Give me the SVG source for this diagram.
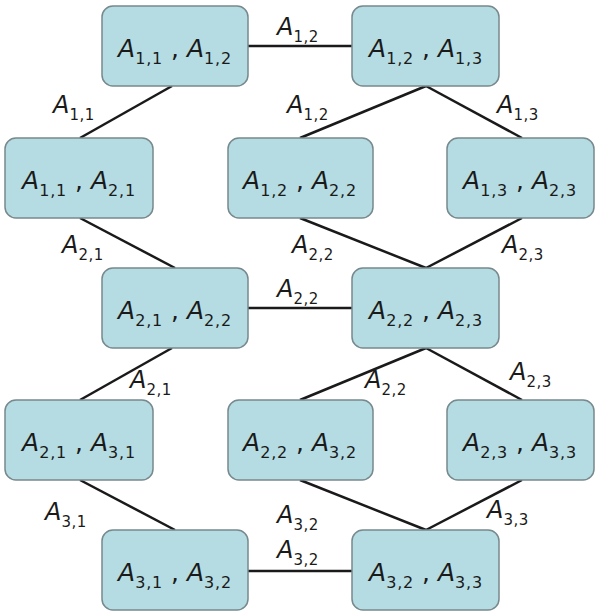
<svg xmlns="http://www.w3.org/2000/svg" width="598" height="613" viewBox="0 0 598 613">
<style>
.box{fill:#b5dce2;stroke:#77898d;stroke-width:1.5}
.edge{stroke:#1a1a1a;stroke-width:2.5;fill:none}
.nt{font-family:"DejaVu Sans",Verdana,sans-serif;font-size:25px;fill:#1a1a1a;text-anchor:middle}
.et{font-family:"DejaVu Sans",Verdana,sans-serif;font-size:24px;fill:#1a1a1a}
.i{font-style:italic}
.s{font-size:16px;letter-spacing:0.8px}
.es{font-size:15px;letter-spacing:0.5px}
</style>
<rect width="598" height="613" fill="#ffffff"/>
<g id="connectors">
<line class="edge" x1="248" y1="46" x2="352" y2="46"/>
<line class="edge" x1="172" y1="86" x2="80" y2="138"/>
<line class="edge" x1="426" y1="86" x2="300" y2="138"/>
<line class="edge" x1="426" y1="86" x2="522" y2="138"/>
<line class="edge" x1="80" y1="218" x2="175" y2="268"/>
<line class="edge" x1="300" y1="218" x2="426" y2="268"/>
<line class="edge" x1="522" y1="218" x2="426" y2="268"/>
<line class="edge" x1="248" y1="308" x2="352" y2="308"/>
<line class="edge" x1="172" y1="348" x2="80" y2="400"/>
<line class="edge" x1="426" y1="348" x2="300" y2="400"/>
<line class="edge" x1="426" y1="348" x2="522" y2="400"/>
<line class="edge" x1="80" y1="480" x2="175" y2="530"/>
<line class="edge" x1="300" y1="480" x2="426" y2="530"/>
<line class="edge" x1="522" y1="480" x2="426" y2="530"/>
<line class="edge" x1="248" y1="571" x2="352" y2="571"/>
<text class="et" x="277" y="35"><tspan class="i">A</tspan><tspan class="es" dy="7">1,2</tspan></text>
<text class="et" x="53" y="113"><tspan class="i">A</tspan><tspan class="es" dy="7">1,1</tspan></text>
<text class="et" x="287" y="113"><tspan class="i">A</tspan><tspan class="es" dy="7">1,2</tspan></text>
<text class="et" x="497" y="113"><tspan class="i">A</tspan><tspan class="es" dy="7">1,3</tspan></text>
<text class="et" x="62" y="253"><tspan class="i">A</tspan><tspan class="es" dy="7">2,1</tspan></text>
<text class="et" x="292" y="253"><tspan class="i">A</tspan><tspan class="es" dy="7">2,2</tspan></text>
<text class="et" x="502" y="253"><tspan class="i">A</tspan><tspan class="es" dy="7">2,3</tspan></text>
<text class="et" x="277" y="297"><tspan class="i">A</tspan><tspan class="es" dy="7">2,2</tspan></text>
<text class="et" x="130" y="388"><tspan class="i">A</tspan><tspan class="es" dy="7">2,1</tspan></text>
<text class="et" x="365" y="388"><tspan class="i">A</tspan><tspan class="es" dy="7">2,2</tspan></text>
<text class="et" x="510" y="380"><tspan class="i">A</tspan><tspan class="es" dy="7">2,3</tspan></text>
<text class="et" x="45" y="520"><tspan class="i">A</tspan><tspan class="es" dy="7">3,1</tspan></text>
<text class="et" x="277" y="523"><tspan class="i">A</tspan><tspan class="es" dy="7">3,2</tspan></text>
<text class="et" x="487" y="518"><tspan class="i">A</tspan><tspan class="es" dy="7">3,3</tspan></text>
<text class="et" x="277" y="558"><tspan class="i">A</tspan><tspan class="es" dy="7">3,2</tspan></text>
</g>
<g id="n11_12"><rect class="box" x="102" y="6" width="146" height="80" rx="11"/><text class="nt" x="175" y="57"><tspan class="i">A</tspan><tspan class="s" dy="7">1,1</tspan><tspan dy="-7"> , </tspan><tspan class="i">A</tspan><tspan class="s" dy="7">1,2</tspan></text></g>
<g id="n12_13"><rect class="box" x="352" y="6" width="147" height="80" rx="11"/><text class="nt" x="426" y="57"><tspan class="i">A</tspan><tspan class="s" dy="7">1,2</tspan><tspan dy="-7"> , </tspan><tspan class="i">A</tspan><tspan class="s" dy="7">1,3</tspan></text></g>
<g id="n11_21"><rect class="box" x="5" y="138" width="148" height="80" rx="11"/><text class="nt" x="79" y="189"><tspan class="i">A</tspan><tspan class="s" dy="7">1,1</tspan><tspan dy="-7"> , </tspan><tspan class="i">A</tspan><tspan class="s" dy="7">2,1</tspan></text></g>
<g id="n12_22"><rect class="box" x="228" y="138" width="145" height="80" rx="11"/><text class="nt" x="300" y="189"><tspan class="i">A</tspan><tspan class="s" dy="7">1,2</tspan><tspan dy="-7"> , </tspan><tspan class="i">A</tspan><tspan class="s" dy="7">2,2</tspan></text></g>
<g id="n13_23"><rect class="box" x="447" y="138" width="147" height="80" rx="11"/><text class="nt" x="520" y="189"><tspan class="i">A</tspan><tspan class="s" dy="7">1,3</tspan><tspan dy="-7"> , </tspan><tspan class="i">A</tspan><tspan class="s" dy="7">2,3</tspan></text></g>
<g id="n21_22"><rect class="box" x="102" y="268" width="146" height="80" rx="11"/><text class="nt" x="175" y="319"><tspan class="i">A</tspan><tspan class="s" dy="7">2,1</tspan><tspan dy="-7"> , </tspan><tspan class="i">A</tspan><tspan class="s" dy="7">2,2</tspan></text></g>
<g id="n22_23"><rect class="box" x="352" y="268" width="147" height="80" rx="11"/><text class="nt" x="426" y="319"><tspan class="i">A</tspan><tspan class="s" dy="7">2,2</tspan><tspan dy="-7"> , </tspan><tspan class="i">A</tspan><tspan class="s" dy="7">2,3</tspan></text></g>
<g id="n21_31"><rect class="box" x="5" y="400" width="148" height="80" rx="11"/><text class="nt" x="79" y="451"><tspan class="i">A</tspan><tspan class="s" dy="7">2,1</tspan><tspan dy="-7"> , </tspan><tspan class="i">A</tspan><tspan class="s" dy="7">3,1</tspan></text></g>
<g id="n22_32"><rect class="box" x="228" y="400" width="145" height="80" rx="11"/><text class="nt" x="300" y="451"><tspan class="i">A</tspan><tspan class="s" dy="7">2,2</tspan><tspan dy="-7"> , </tspan><tspan class="i">A</tspan><tspan class="s" dy="7">3,2</tspan></text></g>
<g id="n23_33"><rect class="box" x="447" y="400" width="147" height="80" rx="11"/><text class="nt" x="520" y="451"><tspan class="i">A</tspan><tspan class="s" dy="7">2,3</tspan><tspan dy="-7"> , </tspan><tspan class="i">A</tspan><tspan class="s" dy="7">3,3</tspan></text></g>
<g id="n31_32"><rect class="box" x="102" y="530" width="146" height="80" rx="11"/><text class="nt" x="175" y="581"><tspan class="i">A</tspan><tspan class="s" dy="7">3,1</tspan><tspan dy="-7"> , </tspan><tspan class="i">A</tspan><tspan class="s" dy="7">3,2</tspan></text></g>
<g id="n32_33"><rect class="box" x="352" y="530" width="147" height="80" rx="11"/><text class="nt" x="426" y="581"><tspan class="i">A</tspan><tspan class="s" dy="7">3,2</tspan><tspan dy="-7"> , </tspan><tspan class="i">A</tspan><tspan class="s" dy="7">3,3</tspan></text></g>
</svg>
